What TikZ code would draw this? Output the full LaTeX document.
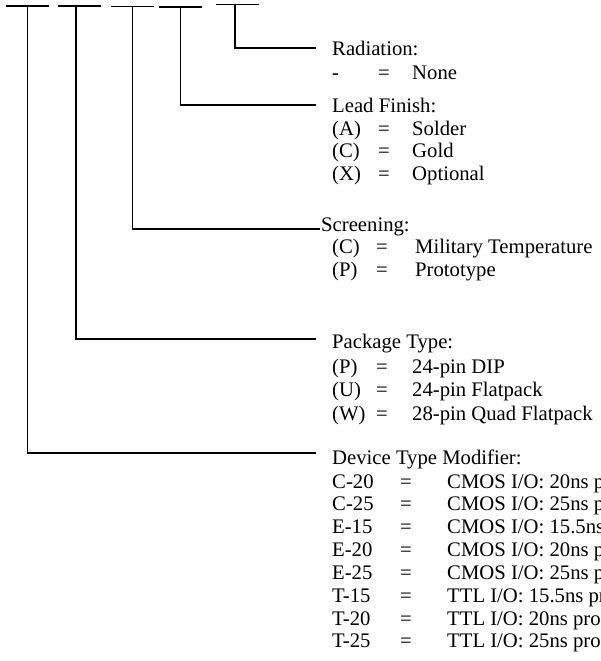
\documentclass[tikz,border=0pt]{standalone}
\usepackage{fontspec}
\setmainfont{Liberation Serif}
\begin{document}
\begin{tikzpicture}[x=1pt,y=-1pt,
  wire/.style={line width=1.7pt,line cap=butt},
  txt/.style={inner sep=0pt,anchor=base west,font=\fontsize{20.7}{23}\selectfont}]
\useasboundingbox (0,0) rectangle (600,661);
\clip (0,0) rectangle (600,661);
% field bars
\coordinate (b1) at (27.5,5.7);
\coordinate (b2) at (79,6);
\coordinate (b3) at (132.5,6.5);
\coordinate (b4) at (180.5,7);
\coordinate (b5) at (237,4.5);
\foreach \b in {b1,b2,b3,b4,b5}
  \draw[wire] ([xshift=-21.5pt]\b) -- ([xshift=21.5pt]\b);
% connector ends
\coordinate (e5) at (316,47.7);
\coordinate (e4) at (316,105);
\coordinate (e3) at (320,229);
\coordinate (e2) at (316,338.7);
\coordinate (e1) at (316,453);
\draw[wire] ([xshift=-2pt]b5) |- (e5);
\draw[wire] (b4) |- (e4);
\draw[wire] (b3) |- (e3);
\draw[wire] ([xshift=-3pt]b2) |- (e2);
\draw[wire] (b1) |- (e1);
% Radiation
\node[txt] (rad) at (332,56) {Radiation:};
\node[txt] (rk1) at (332,79) {-};
\node[txt] (rq1) at (378,79) {=};
\node[txt] (rv1) at (412,79) {None};
% Lead finish
\node[txt] (lead) at (332,112) {Lead Finish:};
\node[txt] (lk1) at (332,135) {(A)};
\node[txt] (lq1) at (378,135) {=};
\node[txt] (lv1) at (412,135) {Solder};
\node[txt] (lk2) at (332,157.5) {(C)};
\node[txt] (lq2) at (378,157.5) {=};
\node[txt] (lv2) at (412,157.5) {Gold};
\node[txt] (lk3) at (332,180) {(X)};
\node[txt] (lq3) at (378,180) {=};
\node[txt] (lv3) at (412,180) {Optional};
% Screening
\node[txt] (scr) at (321,231.7) {Screening:};
\node[txt] (sk1) at (332,253.5) {(C)};
\node[txt] (sq1) at (376,253.5) {=};
\node[txt] (sv1) at (415,253.5) {Military Temperature};
\node[txt] (sk2) at (332,276) {(P)};
\node[txt] (sq2) at (376,276) {=};
\node[txt] (sv2) at (415,276) {Prototype};
% Package
\node[txt] (pkg) at (332,348) {Package Type:};
\node[txt] (pk1) at (332,373.5) {(P)};
\node[txt] (pq1) at (376,373.5) {=};
\node[txt] (pv1) at (412,373.5) {24-pin DIP};
\node[txt] (pk2) at (332,396.7) {(U)};
\node[txt] (pq2) at (376,396.7) {=};
\node[txt] (pv2) at (412,396.7) {24-pin Flatpack};
\node[txt] (pk3) at (332,420) {(W)};
\node[txt] (pq3) at (376,420) {=};
\node[txt] (pv3) at (412,420) {28-pin Quad Flatpack};
% Device type
\node[txt] (dev) at (332,464.3) {Device Type Modifier:};
\foreach \k/\v/\y [count=\i] in {
  {C-20}/{CMOS I/O: 20ns p}/488,
  {C-25}/{CMOS I/O: 25ns p}/510.5,
  {E-15}/{CMOS I/O: 15.5ns}/533,
  {E-20}/{CMOS I/O: 20ns p}/556,
  {E-25}/{CMOS I/O: 25ns p}/579,
  {T-15}/{TTL I/O: 15.5ns pr}/602,
  {T-20}/{TTL I/O: 20ns pro}/625,
  {T-25}/{TTL I/O: 25ns pro}/647.5}{
  \node[txt] (dk\i) at (332,\y) {\k};
  \node[txt] (dq\i) at (400,\y) {=};
  \node[txt] (dv\i) at (447,\y) {\v};
}
\end{tikzpicture}
\end{document}
